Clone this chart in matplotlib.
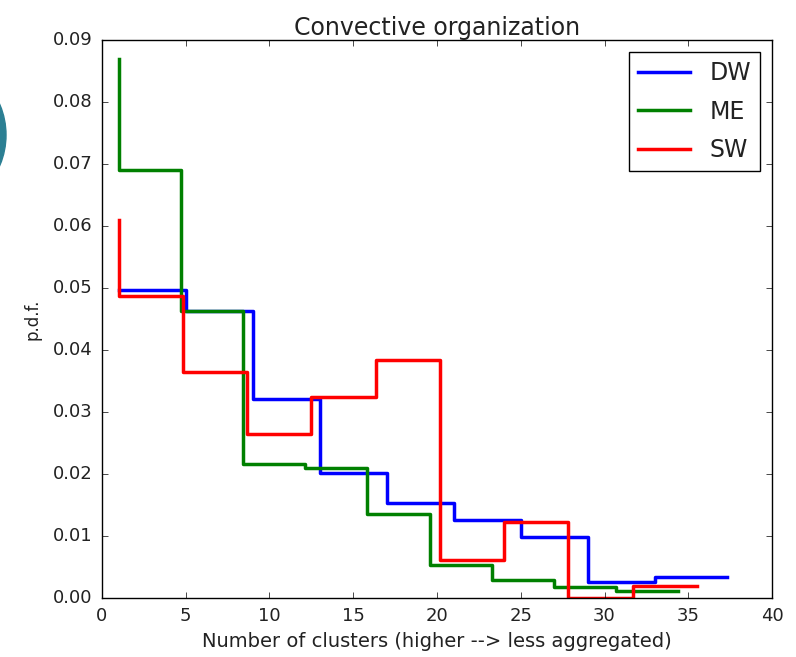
import matplotlib
matplotlib.use('Agg')
import matplotlib.pyplot as plt
from matplotlib.patches import Circle

plt.style.use('classic')

# bin edges (first point carries the value drawn as the spike at x=1)
dw_x = [1, 5, 9, 13, 17, 21, 25, 29, 33, 37.3]
dw_y = [0.0497, 0.0497, 0.0463, 0.0321, 0.0201, 0.0153, 0.0126, 0.0098, 0.0026, 0.0034]

me_x = [1, 4.71, 8.42, 12.13, 15.84, 19.56, 23.27, 26.98, 30.69, 34.4]
me_y = [0.0870, 0.0691, 0.0463, 0.0217, 0.0210, 0.0136, 0.0054, 0.0029, 0.0018, 0.0012]

sw_x = [1, 4.83, 8.67, 12.5, 16.33, 20.17, 24.0, 27.83, 31.67, 35.5]
sw_y = [0.0610, 0.0488, 0.0364, 0.0264, 0.0324, 0.0384, 0.0062, 0.0123, 0.0, 0.0020]

txt = '#222222'
fig = plt.figure(figsize=(7.96, 6.57), dpi=100, facecolor='white')
ax = fig.add_axes([0.128, 0.0898, 0.842, 0.849])
ax.set_facecolor('white')

ax.plot(dw_x, dw_y, drawstyle='steps', color='b', lw=2.5, label='DW')
ax.plot(me_x, me_y, drawstyle='steps', color='g', lw=2.5, label='ME')
ax.plot(sw_x, sw_y, drawstyle='steps', color='r', lw=2.5, label='SW')

ax.set_xlim(0, 40)
ax.set_ylim(0, 0.09)
ax.set_yticks([0, 0.01, 0.02, 0.03, 0.04, 0.05, 0.06, 0.07, 0.08, 0.09])
ax.tick_params(labelsize=13, labelcolor=txt, pad=6.5)
ax.set_title('Convective organization', fontsize=17, color=txt, pad=4)
ax.set_xlabel('Number of clusters (higher --> less aggregated)', fontsize=14, color=txt, labelpad=5)
ax.set_ylabel('p.d.f.', fontsize=12, color=txt, labelpad=8)
leg = ax.legend(loc='upper right', fontsize=17, handlelength=2.2, numpoints=1, labelspacing=0.6)
for t in leg.get_texts():
    t.set_color(txt)

# teal disc clipped at the left edge of the canvas
fig.patches.append(Circle((-72, 522), 78, transform=None, color='#2b7f93'))

fig.savefig('out.png', dpi=100, facecolor='white')
